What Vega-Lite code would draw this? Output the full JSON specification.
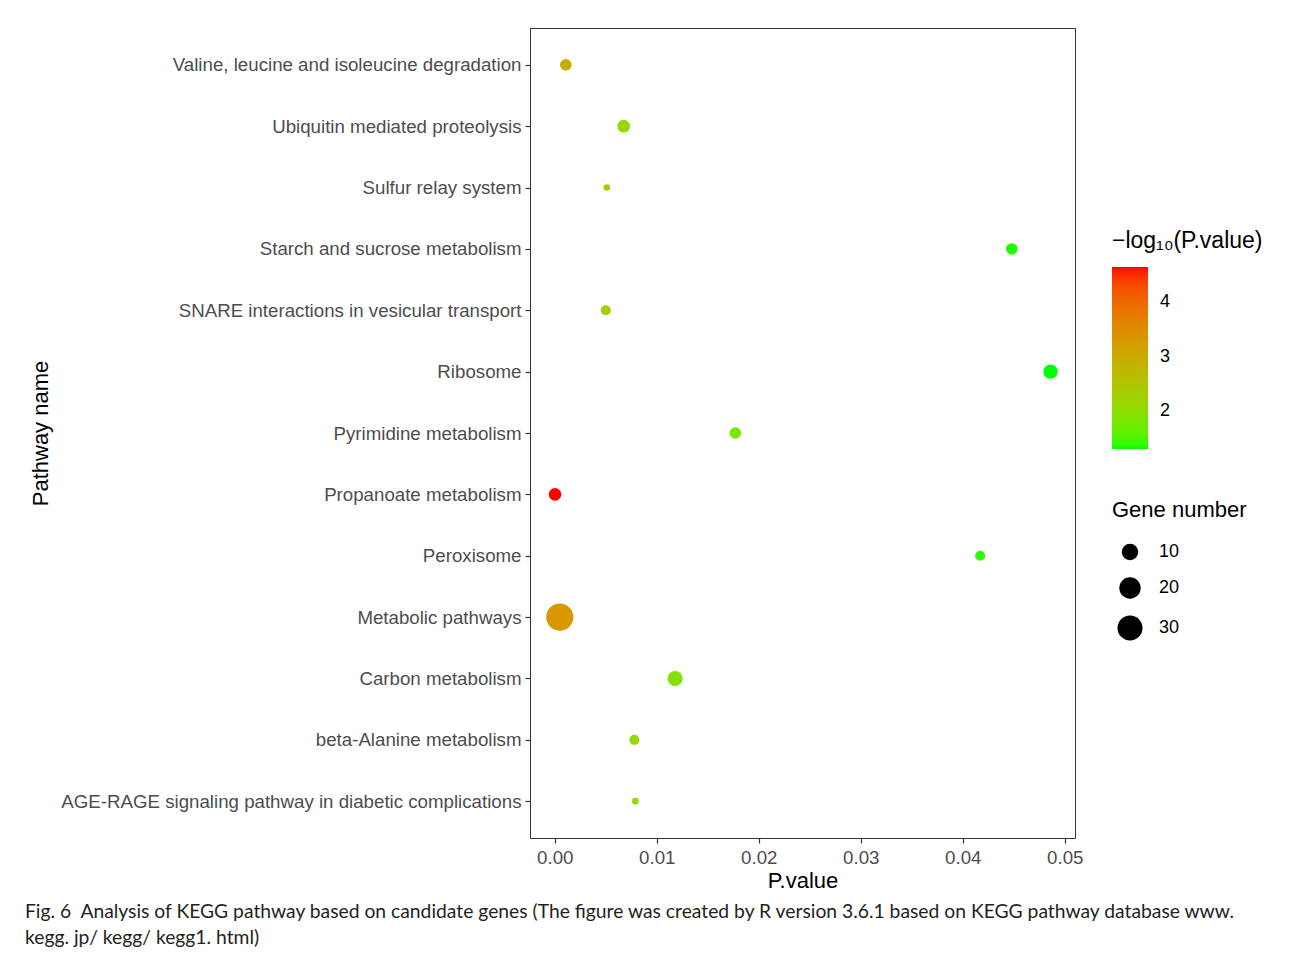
{
  "$schema": "https://vega.github.io/schema/vega-lite/v6.json",
  "width": 545,
  "height": 810,
  "autosize": {"type": "none"},
  "padding": {"left": 530, "top": 28, "right": 217, "bottom": 120},
  "background": "white",
  "title": {
    "text": ["Fig. 6\u00a0\u00a0Analysis of KEGG pathway based on candidate genes (The figure was created by R version 3.6.1 based on KEGG pathway database www.", "kegg. jp/ kegg/ kegg1. html)"],
    "orient": "bottom",
    "anchor": "start",
    "frame": "bounds",
    "font": "Lato",
    "fontSize": 19.3,
    "fontWeight": "normal",
    "color": "#231f20",
    "lineHeight": 26,
    "offset": 11,
    "dx": -4
  },
  "config": {
    "view": {"stroke": "#333333", "strokeWidth": 1},
    "font": "Liberation Sans",
    "axis": {"grid": false, "domain": false, "tickColor": "#333333", "tickSize": 5, "tickWidth": 1.2, "labelColor": "#4d4d4d", "labelFontSize": 18.7, "labelFont": "Liberation Sans", "titleFont": "Liberation Sans", "titleFontWeight": "normal", "titleColor": "#000000", "titleFontSize": 22}
  },
  "data": {
    "values": [
      {"pathway": "Valine, leucine and isoleucine degradation", "pvalue": 0.00108, "neglog": 2.967, "genes": 4},
      {"pathway": "Ubiquitin mediated proteolysis", "pvalue": 0.00675, "neglog": 2.171, "genes": 5},
      {"pathway": "Sulfur relay system", "pvalue": 0.0051, "neglog": 2.292, "genes": 2},
      {"pathway": "Starch and sucrose metabolism", "pvalue": 0.0448, "neglog": 1.349, "genes": 4},
      {"pathway": "SNARE interactions in vesicular transport", "pvalue": 0.0050, "neglog": 2.301, "genes": 3},
      {"pathway": "Ribosome", "pvalue": 0.0486, "neglog": 1.313, "genes": 7},
      {"pathway": "Pyrimidine metabolism", "pvalue": 0.0177, "neglog": 1.752, "genes": 4},
      {"pathway": "Propanoate metabolism", "pvalue": 0.000023, "neglog": 4.638, "genes": 5},
      {"pathway": "Peroxisome", "pvalue": 0.0417, "neglog": 1.380, "genes": 3},
      {"pathway": "Metabolic pathways", "pvalue": 0.00049, "neglog": 3.310, "genes": 37},
      {"pathway": "Carbon metabolism", "pvalue": 0.0118, "neglog": 1.928, "genes": 8},
      {"pathway": "beta-Alanine metabolism", "pvalue": 0.0078, "neglog": 2.108, "genes": 3},
      {"pathway": "AGE-RAGE signaling pathway in diabetic complications", "pvalue": 0.0079, "neglog": 2.102, "genes": 2}
    ]
  },
  "mark": {"type": "circle", "opacity": 1, "strokeWidth": 0},
  "encoding": {
    "x": {
      "field": "pvalue", "type": "quantitative",
      "title": "P.value",
      "scale": {"domain": [-0.00243, 0.0510], "nice": false, "zero": false},
      "axis": {"values": [0, 0.01, 0.02, 0.03, 0.04, 0.05], "format": ".2f", "labelPadding": 5, "titlePadding": 4}
    },
    "y": {
      "field": "pathway", "type": "nominal",
      "title": "Pathway name",
      "sort": ["Valine, leucine and isoleucine degradation", "Ubiquitin mediated proteolysis", "Sulfur relay system", "Starch and sucrose metabolism", "SNARE interactions in vesicular transport", "Ribosome", "Pyrimidine metabolism", "Propanoate metabolism", "Peroxisome", "Metabolic pathways", "Carbon metabolism", "beta-Alanine metabolism", "AGE-RAGE signaling pathway in diabetic complications"],
      "scale": {"type": "point", "padding": 0.6},
      "axis": {"labelPadding": 4, "labelLimit": 600, "titleX": -490, "titleY": 405, "titleAngle": -90, "titleBaseline": "middle", "titleAlign": "center"}
    },
    "color": {
      "field": "neglog", "type": "quantitative",
      "title": "−log₁₀(P.value)",
      "scale": {"domain": [1.313, 4.638], "range": ["#00ff00", "#ff0000"], "interpolate": "lab"},
      "legend": {
        "orient": "none", "legendX": 582, "legendY": 202,
        "values": [2, 3, 4],
        "gradientLength": 182, "gradientThickness": 36,
        "gradientStrokeWidth": 0,
        "labelFontSize": 18, "labelColor": "#000000", "labelOffset": 12,
        "titleFontSize": 23, "titleFontWeight": "normal", "titleColor": "#000000", "titlePadding": 14, "titleLimit": 300
      }
    },
    "size": {
      "field": "genes", "type": "quantitative",
      "title": "Gene number",
      "scale": {"domain": [2, 3, 4, 5, 6, 7, 8, 10, 20, 30, 38], "range": [44.2, 102.4, 133.6, 160.2, 184.6, 207.6, 229.4, 271.1, 456.9, 625.5, 754.8]},
      "legend": {
        "orient": "none", "legendX": 582, "legendY": 472,
        "values": [10, 20, 30],
        "symbolType": "circle", "symbolFillColor": "#000000", "symbolStrokeWidth": 0, "symbolOpacity": 1,
        "symbolOffset": 5,
        "labelFontSize": 18, "labelColor": "#000000", "labelOffset": 16,
        "titleFontSize": 22, "titleFontWeight": "normal", "titleColor": "#000000", "titlePadding": 21,
        "rowPadding": 16
      }
    }
  }
}
